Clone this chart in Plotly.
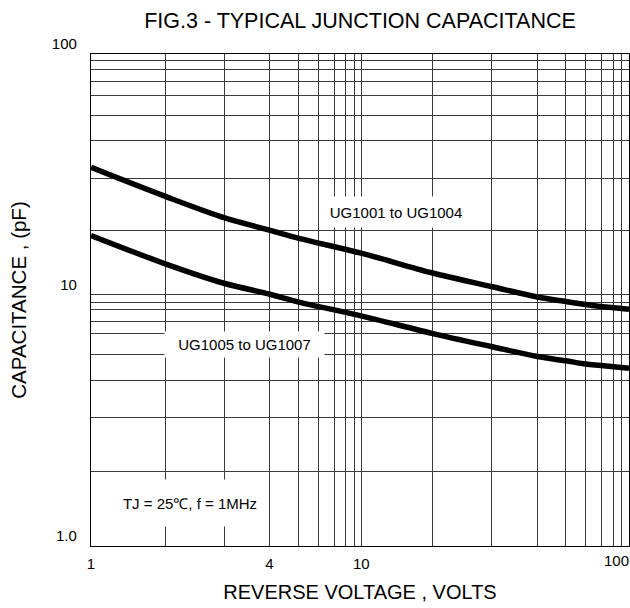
import math
import plotly.graph_objects as go

# ---- data (log-log chart) ----
voltage = [1.0, 1.90, 3.12, 4.63, 5.93, 10.09, 18.5, 30.7, 45.7, 58.2, 69.0, 78.7, 100.0]
cap_ug1001_1004 = [34.6, 26.3, 21.6, 19.2, 17.8, 15.5, 12.9, 11.35, 10.28, 9.86, 9.59, 9.41, 9.17]
cap_ug1005_1007 = [18.3, 14.0, 11.7, 10.55, 9.8, 8.62, 7.32, 6.47, 5.89, 5.66, 5.49, 5.42, 5.28]

# labelled ticks (positions of the printed grid lines they sit on)
x_tick_vals = [1.0, 4.61, 10.11]
x_tick_text = ["1", "4", "10"]
x_end_val = [100.0]
x_end_text = ["100"]
y_tick_vals = [1.0, 10.48, 100.0]
y_tick_text = ["1.0", "10", "100"]

# other printed grid lines
x_grid_vals = [1.90, 3.13, 5.91, 6.98, 8.01, 8.87, 9.52, 18.62, 30.72, 45.65,
               58.18, 68.9, 79.0, 87.2, 93.9]
y_grid_vals = [93.7, 86.3, 77.2, 67.5, 56.5, 44.3, 31.2, 19.1, 9.79, 9.15, 8.21,
               7.32, 5.98, 4.69, 3.32, 2.00]

series_names = ["UG1001 to UG1004", "UG1005 to UG1007"]
note_text = "TJ = 25℃, f = 1MHz"
label_pos = [(13.6, 22.8), (3.71, 6.59), (2.33, 1.50)]

FONT = "Liberation Sans, Arial, sans-serif"
GRID = "#3a3a3a"

fig = go.Figure()
for ys, name in zip([cap_ug1001_1004, cap_ug1005_1007], series_names):
    fig.add_trace(go.Scatter(
        x=voltage, y=ys, mode="lines", name=name,
        line=dict(color="black", width=5.5, shape="spline", smoothing=0.9),
        showlegend=False, hoverinfo="skip"))
# carrier trace for the overlay axis holding the "100" label
fig.add_trace(go.Scatter(x=[], y=[], xaxis="x2", yaxis="y", showlegend=False,
                         hoverinfo="skip"))

axis_common = dict(
    type="log", showline=True, linecolor="black", linewidth=1.2, mirror=True,
    showgrid=True, gridcolor=GRID, gridwidth=1, zeroline=False,
    tickfont=dict(family=FONT, size=15, color="black"), ticks="",
)

fig.update_layout(
    width=630, height=608, autosize=False,
    paper_bgcolor="white", plot_bgcolor="white",
    margin=dict(l=91, r=1, t=54, b=62),
    font=dict(family=FONT, color="black"),
    title=dict(text="FIG.3 - TYPICAL JUNCTION CAPACITANCE",
               font=dict(family=FONT, size=21.5, color="black"),
               x=0.5, xref="paper", xanchor="center",
               y=1 - 20 / 608, yref="container", yanchor="middle"),
    xaxis=dict(**axis_common, range=[0, 2],
               tickmode="array", tickvals=x_tick_vals, ticktext=x_tick_text,
               ticklabelstandoff=4,
               minor=dict(tickmode="array", tickvals=x_grid_vals, showgrid=True,
                          gridcolor=GRID, gridwidth=1, ticks=""),
               title=dict(text="REVERSE VOLTAGE , VOLTS",
                          font=dict(family=FONT, size=20, color="black"),
                          standoff=13)),
    xaxis2=dict(type="log", range=[0, 2], overlaying="x", side="bottom",
                showgrid=False, showline=False, zeroline=False,
                tickmode="array", tickvals=x_end_val, ticktext=x_end_text,
                ticklabelposition="outside left", ticklabelstandoff=4,
                tickfont=dict(family=FONT, size=15, color="black"), ticks=""),
    yaxis=dict(**axis_common, range=[0, 2],
               tickmode="array", tickvals=y_tick_vals, ticktext=y_tick_text,
               ticklabelposition="outside top", ticklabelstandoff=10,
               minor=dict(tickmode="array", tickvals=y_grid_vals, showgrid=True,
                          gridcolor=GRID, gridwidth=1, ticks=""),
               title=dict(text="CAPACITANCE , (pF)",
                          font=dict(family=FONT, size=20.5, color="black"),
                          standoff=19)),
)

boxes = [(140, 26), (155, 21), (150, 42)]
texts = series_names + [note_text]
for (xv, yv), (w, h), t in zip(label_pos, boxes, texts):
    fig.add_annotation(
        x=math.log10(xv), y=math.log10(yv), xref="x", yref="y",
        text=t, showarrow=False, bgcolor="white", width=w, height=h,
        borderpad=2, font=dict(family=FONT, size=15, color="black"))

fig.write_html("out.html", config={"displayModeBar": False},
               post_script="document.body.style.margin='0';document.body.style.padding='0';")
